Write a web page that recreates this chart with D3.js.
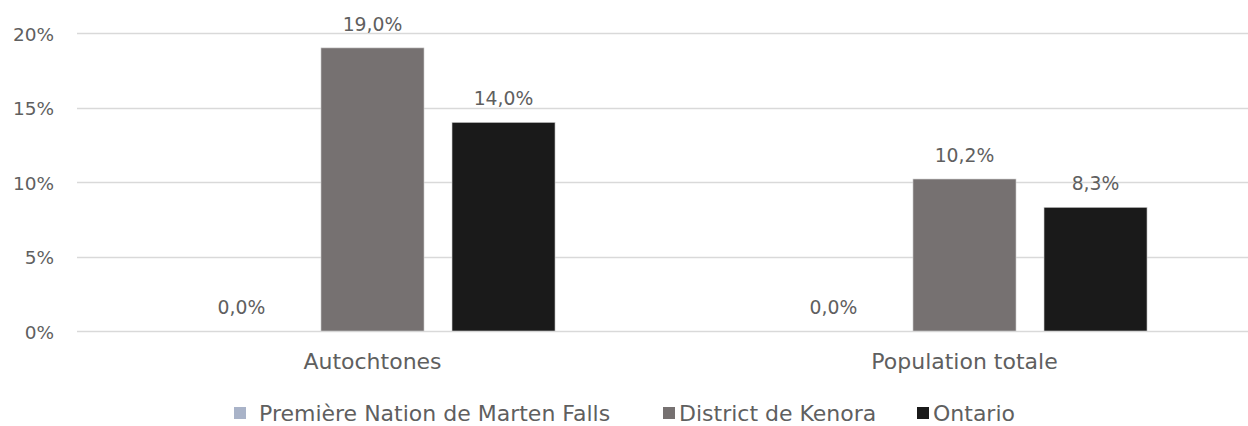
<!DOCTYPE html>
<html><head><meta charset="utf-8">
<script src="https://cdn.jsdelivr.net/npm/d3@7"></script>
<style>html,body{margin:0;padding:0;background:#fff;overflow:hidden}svg{display:block}</style>
</head><body>
<svg id="chart" width="1248" height="426"></svg>
<script>
const categories = ["Autochtones", "Population totale"];
const seriesNames = ["Première Nation de Marten Falls", "District de Kenora", "Ontario"];
const seriesColors = ["#a9b3c8", "#767171", "#1a1a1a"];
const martenFalls = [0.0, 0.0];
const kenora = [19.0, 10.2];
const ontario = [14.0, 8.3];
const yTicks = [0, 5, 10, 15, 20];

const seriesValues = [martenFalls, kenora, ontario];
const FONT = "'DejaVu Sans',sans-serif";
const TXT = "#5f5f5f";

const svg = d3.select("#chart");
const y = d3.scaleLinear().domain([0, 20]).range([331, 33]);
const x0 = d3.scaleBand().domain(categories).range([76.5, 1260.5]).padding(0);
const x1 = d3.scaleBand().domain(seriesNames).range([0, x0.bandwidth()])
  .paddingInner(0.2137).paddingOuter(0.866);

// gridlines
svg.append("g").selectAll("line").data(yTicks).join("line")
  .attr("x1", 77).attr("x2", 1248)
  .attr("y1", d => Math.round(y(d)) + 0.5).attr("y2", d => Math.round(y(d)) + 0.5)
  .attr("stroke", "#d9d9d9").attr("stroke-width", 1.3);

// y tick labels
svg.append("g").selectAll("text").data(yTicks).join("text")
  .attr("x", 54).attr("y", d => y(d) + 7.5)
  .attr("text-anchor", "end").attr("font-family", FONT).attr("font-size", 18.5)
  .attr("fill", TXT).text(d => d + "%");

// bars
const fmt = v => v.toFixed(1).replace(".", ",") + "%";
categories.forEach((c, ci) => {
  const g = svg.append("g").attr("transform", `translate(${x0(c)},0)`);
  const rows = seriesNames.map((s, si) => ({s, si, v: seriesValues[si][ci]}));
  g.selectAll("rect").data(rows.filter(r => r.v > 0)).join("rect")
    .attr("x", r => x1(r.s)).attr("width", x1.bandwidth())
    .attr("y", r => y(r.v)).attr("height", r => y(0) - y(r.v))
    .attr("fill", r => seriesColors[r.si])
    .attr("stroke", "#d0d0d0").attr("stroke-width", 0.6);
  g.selectAll("text").data(rows).join("text")
    .attr("x", r => x1(r.s) + x1.bandwidth() / 2)
    .attr("y", r => y(r.v) - 17)
    .attr("text-anchor", "middle").attr("font-family", FONT).attr("font-size", 18.8)
    .attr("fill", TXT).text(r => fmt(r.v));
});

// category labels
svg.append("g").selectAll("text").data(categories).join("text")
  .attr("x", d => x0(d) + x0.bandwidth() / 2).attr("y", 369)
  .attr("text-anchor", "middle").attr("font-family", FONT).attr("font-size", 22)
  .attr("fill", TXT).text(d => d);

// legend
const legendX = [234, 663, 917];
const lg = svg.append("g").selectAll("g").data(seriesNames).join("g")
  .attr("transform", (d, i) => `translate(${legendX[i]},413)`);
lg.append("rect").attr("x", 0).attr("y", -6).attr("width", 12).attr("height", 12)
  .attr("fill", (d, i) => seriesColors[i]);
lg.append("text").attr("x", (d, i) => i === 0 ? 25 : 16).attr("y", 8)
  .attr("font-family", FONT).attr("font-size", 22).attr("fill", TXT).text(d => d);
</script>
</body></html>
